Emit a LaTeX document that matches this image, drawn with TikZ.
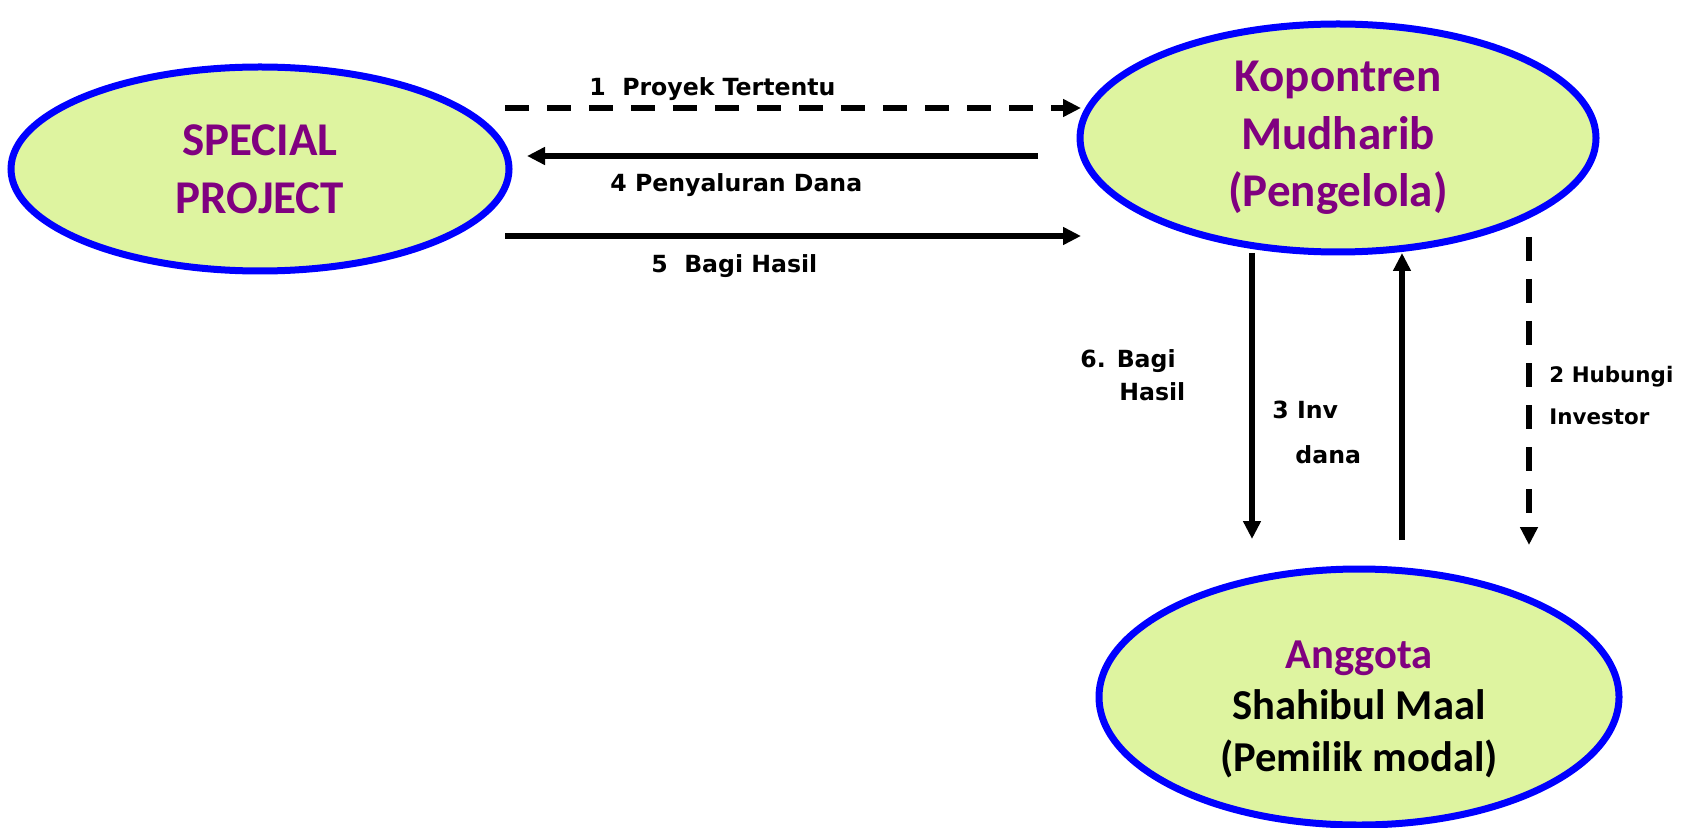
\documentclass[tikz,border=0pt]{standalone}
\usepackage{fontspec}
\setmainfont{Carlito}
\newfontfamily\lblfont{DejaVu Sans}
\usetikzlibrary{shapes.geometric,arrows.meta}
\definecolor{ellfill}{RGB}{222,244,160}
\definecolor{ellline}{RGB}{0,0,255}
\definecolor{titlepurple}{RGB}{128,0,128}

\begin{document}
\begin{tikzpicture}[x=0.5pt,y=-0.5pt,
  party/.style={ellipse, draw=ellline, fill=ellfill, line width=3.5pt,
    inner sep=0pt, align=center},
  bigtext/.style={font=\bfseries\fontsize{23.5pt}{28.8pt}\selectfont},
  flow/.style={line width=3pt, -{Triangle[length=9pt,width=8.5pt]}},
  dashflow/.style={flow, dash pattern=on 12pt off 9pt},
  lbl/.style={font=\lblfont\bfseries\fontsize{11.8pt}{14pt}\selectfont,
    inner sep=0pt, anchor=base west},
  smalllbl/.style={lbl, font=\lblfont\bfseries\fontsize{10.7pt}{13pt}\selectfont},
]
\useasboundingbox (0,0) rectangle (1689,828);

% the three parties (minimum sizes give the outer edge of the border)
\node[party, bigtext, text=titlepurple, minimum width=249pt, minimum height=102pt]
  (sp) at (260,169) {SPECIAL\\PROJECT};
\node[party, bigtext, text=titlepurple, minimum width=258pt, minimum height=114pt]
  (kop) at (1338,138) {Kopontren\\Mudharib\\(Pengelola)};
\node[party, font=\bfseries\fontsize{21.3pt}{25.8pt}\selectfont,
  minimum width=260pt, minimum height=128pt]
  (ang) at (1359,697)
  {\rule{0pt}{26pt}\textcolor{titlepurple}{Anggota}\\Shahibul Maal\\(Pemilik modal)};

% end points of the flows
\coordinate (a1s) at (505,108);
\coordinate (a1e) at (1081,108);
\coordinate (a4s) at (1038,156);
\coordinate (a4e) at (527,156);
\coordinate (a5s) at (505,236);
\coordinate (a5e) at (1081,236);
\coordinate (a6s) at (1252,253);
\coordinate (a6e) at (1252,539);
\coordinate (a3s) at (1402,540);
\coordinate (a3e) at (1402,253);
\coordinate (a2s) at (1529,237);
\coordinate (a2e) at (1529,545);

% flows
\draw[dashflow] (a1s) -- (a1e);
\draw[flow] (a4s) -- (a4e);
\draw[flow] (a5s) -- (a5e);
\draw[flow] (a6s) -- (a6e);
\draw[flow] (a3s) -- (a3e);
\draw[dashflow] (a2s) -- (a2e);

% flow labels
\node[lbl] (l1) at (589,96) {1\ \ Proyek Tertentu};
\node[lbl] (l4) at (610,192) {4 Penyaluran Dana};
\node[lbl] (l5) at (651,273) {5\ \ Bagi Hasil};
\node[lbl] (l6a) at (1080,367) {6. Bagi};
\node[lbl] (l6b) at (1119,400) {Hasil};
\node[lbl] (l3a) at (1272,418) {3 Inv};
\node[lbl] (l3b) at (1295,463) {dana};
\node[smalllbl] (l2a) at (1549,382) {2 Hubungi};
\node[smalllbl] (l2b) at (1549,424) {Investor};
\end{tikzpicture}
\end{document}
